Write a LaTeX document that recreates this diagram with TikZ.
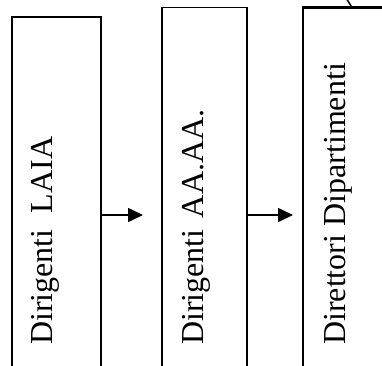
\documentclass[tikz,border=0pt]{standalone}
\usepackage{fontspec}
\setmainfont{Liberation Serif}
\usetikzlibrary{arrows.meta}
\begin{document}
\begin{tikzpicture}[x=1pt,y=-1pt,
  box/.style={draw,rectangle,anchor=north west,inner sep=0pt,outer sep=0pt,minimum height=400pt},
  lbl/.style={rotate=90,anchor=base west,inner sep=0pt,font=\fontsize{32}{38}\selectfont},
  arr/.style={-{Triangle[length=15pt,width=14pt]},line width=1.6pt}]
\useasboundingbox (0,0) rectangle (382,365);
\clip (0,0) rectangle (382,365);
\node[box,line width=1.3pt,minimum width=89pt] (b1) at (12,17) {};
\node[box,line width=1.6pt,minimum width=85pt] (b2) at (162,7.5) {};
\node[box,line width=2.2pt,minimum width=100pt] (b3) at (303,7.5) {};
\node[lbl] (l1) at (52,345) {Dirigenti\hspace{0.5em}LAIA};
\node[lbl] (l2) at (203,345) {Dirigenti\hspace{0.35em}AA.AA.};
\node[lbl] (l3) at (345,345) {Direttori Dipartimenti};
\coordinate (e1) at (143,215);
\coordinate (e2) at (293,215);
\draw[arr] (b1.east |- e1) -- (e1);
\draw[arr] (b2.east |- e2) -- (e2);
\coordinate (d1) at ([xshift=49pt]b3.north west);
\coordinate (d0) at (345.5,-3);
\draw[line width=1.5pt] (d1) -- (d0);
\end{tikzpicture}
\end{document}
